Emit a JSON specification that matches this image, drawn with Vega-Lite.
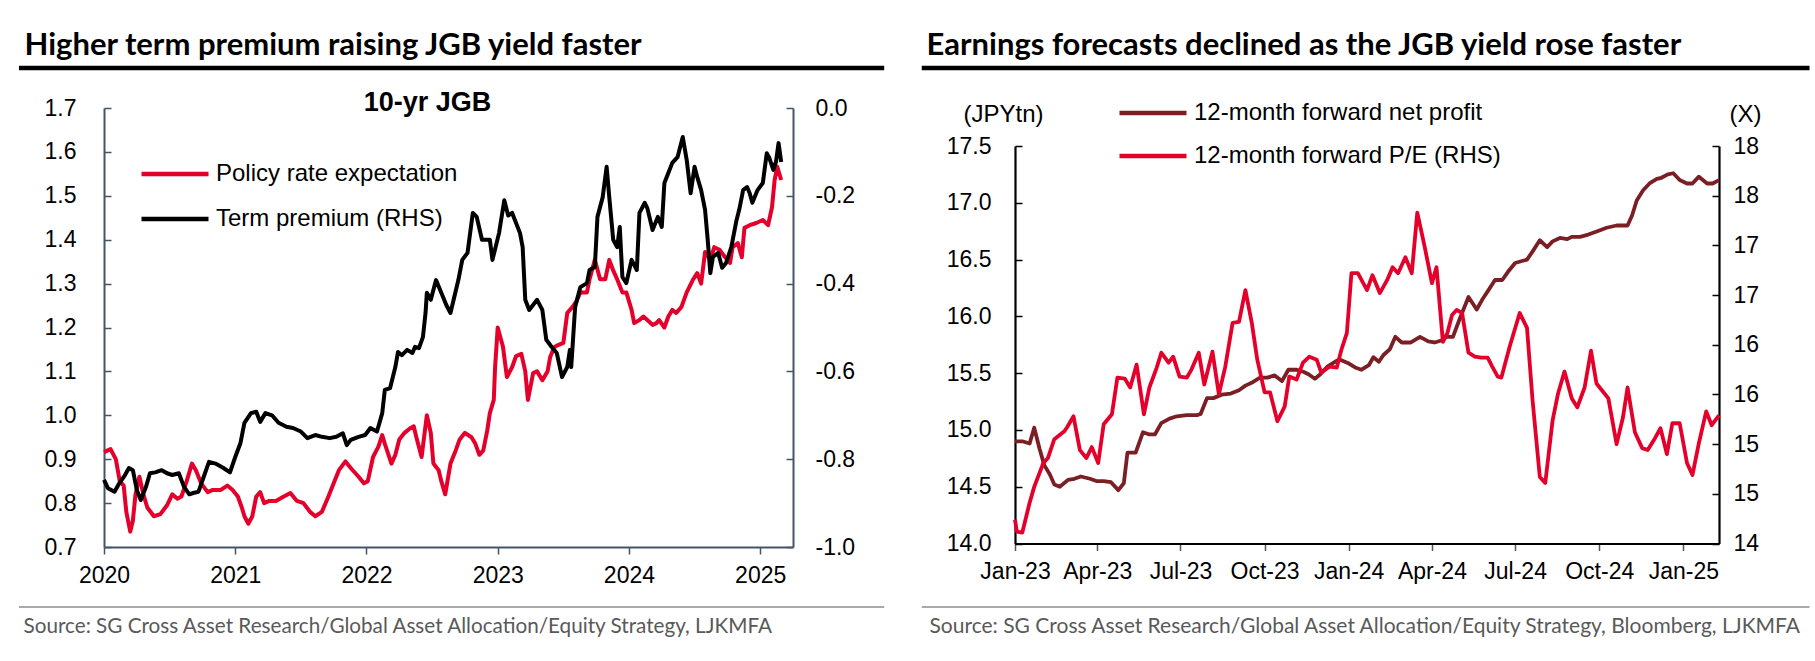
{
  "$schema": "https://vega.github.io/schema/vega-lite/v6.json",
  "width": 1815,
  "height": 661,
  "autosize": {"type": "none"},
  "padding": 0,
  "background": "white",
  "config": {
    "view": {"stroke": null},
    "axis": {"grid": false, "labelFont": "Liberation Sans", "labelFontSize": 23, "labelColor": "black", "labelFlush": false, "labelOverlap": false, "titleFont": "Liberation Sans", "titleColor": "black", "titleLimit": 2000},
    "legend": {"labelFont": "Liberation Sans", "labelFontSize": 24, "labelColor": "black", "labelLimit": 800, "padding": 0, "symbolType": "stroke", "symbolSize": 4489, "labelOffset": 5}
  },
  "datasets": {
    "policy": [
      {"t":2020.00,"v":0.916},{"t":2020.05,"v":0.923},{"t":2020.09,"v":0.90},{"t":2020.12,"v":0.85},{"t":2020.15,"v":0.84},{"t":2020.17,"v":0.78},{"t":2020.20,"v":0.735},{"t":2020.22,"v":0.76},{"t":2020.24,"v":0.82},{"t":2020.27,"v":0.86},{"t":2020.30,"v":0.82},{"t":2020.33,"v":0.79},{"t":2020.38,"v":0.77},{"t":2020.43,"v":0.775},{"t":2020.48,"v":0.795},{"t":2020.52,"v":0.82},{"t":2020.56,"v":0.81},{"t":2020.59,"v":0.815},{"t":2020.63,"v":0.85},{"t":2020.67,"v":0.89},{"t":2020.70,"v":0.875},{"t":2020.74,"v":0.845},{"t":2020.79,"v":0.825},{"t":2020.83,"v":0.83},{"t":2020.89,"v":0.83},{"t":2020.94,"v":0.84},{"t":2020.98,"v":0.83},
      {"t":2021.02,"v":0.815},{"t":2021.05,"v":0.79},{"t":2021.07,"v":0.77},{"t":2021.10,"v":0.753},{"t":2021.13,"v":0.77},{"t":2021.16,"v":0.815},{"t":2021.19,"v":0.825},{"t":2021.22,"v":0.80},{"t":2021.26,"v":0.805},{"t":2021.31,"v":0.805},{"t":2021.37,"v":0.815},{"t":2021.42,"v":0.823},{"t":2021.47,"v":0.805},{"t":2021.52,"v":0.80},{"t":2021.57,"v":0.78},{"t":2021.61,"v":0.77},{"t":2021.66,"v":0.78},{"t":2021.71,"v":0.815},{"t":2021.75,"v":0.845},{"t":2021.79,"v":0.875},{"t":2021.84,"v":0.895},{"t":2021.88,"v":0.88},{"t":2021.94,"v":0.86},{"t":2021.98,"v":0.845},
      {"t":2022.01,"v":0.85},{"t":2022.05,"v":0.905},{"t":2022.09,"v":0.928},{"t":2022.12,"v":0.955},{"t":2022.14,"v":0.935},{"t":2022.19,"v":0.89},{"t":2022.22,"v":0.91},{"t":2022.25,"v":0.945},{"t":2022.29,"v":0.96},{"t":2022.33,"v":0.97},{"t":2022.36,"v":0.975},{"t":2022.38,"v":0.95},{"t":2022.42,"v":0.905},{"t":2022.46,"v":1.00},{"t":2022.49,"v":0.96},{"t":2022.51,"v":0.89},{"t":2022.55,"v":0.875},{"t":2022.57,"v":0.85},{"t":2022.60,"v":0.82},{"t":2022.64,"v":0.89},{"t":2022.68,"v":0.92},{"t":2022.71,"v":0.945},{"t":2022.75,"v":0.96},{"t":2022.80,"v":0.95},{"t":2022.83,"v":0.935},{"t":2022.86,"v":0.91},{"t":2022.89,"v":0.92},{"t":2022.92,"v":0.965},{"t":2022.94,"v":1.005},{"t":2022.97,"v":1.035},{"t":2022.98,"v":1.11},
      {"t":2023.00,"v":1.20},{"t":2023.04,"v":1.156},{"t":2023.07,"v":1.087},{"t":2023.11,"v":1.11},{"t":2023.14,"v":1.135},{"t":2023.18,"v":1.14},{"t":2023.21,"v":1.10},{"t":2023.23,"v":1.035},{"t":2023.27,"v":1.096},{"t":2023.30,"v":1.10},{"t":2023.34,"v":1.08},{"t":2023.38,"v":1.10},{"t":2023.40,"v":1.133},{"t":2023.43,"v":1.155},{"t":2023.46,"v":1.16},{"t":2023.50,"v":1.165},{"t":2023.53,"v":1.233},{"t":2023.57,"v":1.247},{"t":2023.60,"v":1.26},{"t":2023.63,"v":1.28},{"t":2023.68,"v":1.28},{"t":2023.70,"v":1.31},{"t":2023.74,"v":1.354},{"t":2023.78,"v":1.31},{"t":2023.82,"v":1.31},{"t":2023.85,"v":1.354},{"t":2023.88,"v":1.33},{"t":2023.91,"v":1.31},{"t":2023.95,"v":1.28},{"t":2023.98,"v":1.28},
      {"t":2024.02,"v":1.24},{"t":2024.04,"v":1.21},{"t":2024.08,"v":1.217},{"t":2024.11,"v":1.225},{"t":2024.14,"v":1.217},{"t":2024.18,"v":1.206},{"t":2024.21,"v":1.21},{"t":2024.23,"v":1.217},{"t":2024.27,"v":1.20},{"t":2024.30,"v":1.225},{"t":2024.33,"v":1.24},{"t":2024.36,"v":1.233},{"t":2024.40,"v":1.247},{"t":2024.44,"v":1.28},{"t":2024.49,"v":1.31},{"t":2024.52,"v":1.324},{"t":2024.55,"v":1.30},{"t":2024.58,"v":1.372},{"t":2024.62,"v":1.354},{"t":2024.65,"v":1.383},{"t":2024.69,"v":1.377},{"t":2024.73,"v":1.361},{"t":2024.77,"v":1.347},{"t":2024.79,"v":1.383},{"t":2024.83,"v":1.392},{"t":2024.86,"v":1.36},{"t":2024.88,"v":1.427},{"t":2024.92,"v":1.433},{"t":2024.97,"v":1.438},{"t":2025.02,"v":1.445},{"t":2025.06,"v":1.433},{"t":2025.09,"v":1.474},{"t":2025.11,"v":1.536},{"t":2025.13,"v":1.566},{"t":2025.16,"v":1.536}
    ],
    "term": [
      {"t":2020.00,"v":-0.847},{"t":2020.03,"v":-0.866},{"t":2020.08,"v":-0.874},{"t":2020.11,"v":-0.858},{"t":2020.16,"v":-0.836},{"t":2020.19,"v":-0.82},{"t":2020.22,"v":-0.825},{"t":2020.25,"v":-0.87},{"t":2020.28,"v":-0.893},{"t":2020.32,"v":-0.863},{"t":2020.35,"v":-0.832},{"t":2020.39,"v":-0.83},{"t":2020.44,"v":-0.825},{"t":2020.48,"v":-0.832},{"t":2020.52,"v":-0.836},{"t":2020.57,"v":-0.832},{"t":2020.61,"v":-0.863},{"t":2020.65,"v":-0.88},{"t":2020.68,"v":-0.877},{"t":2020.72,"v":-0.874},{"t":2020.76,"v":-0.84},{"t":2020.80,"v":-0.806},{"t":2020.85,"v":-0.81},{"t":2020.91,"v":-0.82},{"t":2020.96,"v":-0.83},
      {"t":2021.00,"v":-0.795},{"t":2021.04,"v":-0.763},{"t":2021.07,"v":-0.717},{"t":2021.12,"v":-0.695},{"t":2021.16,"v":-0.692},{"t":2021.19,"v":-0.715},{"t":2021.23,"v":-0.695},{"t":2021.28,"v":-0.70},{"t":2021.33,"v":-0.717},{"t":2021.39,"v":-0.726},{"t":2021.44,"v":-0.729},{"t":2021.50,"v":-0.737},{"t":2021.55,"v":-0.752},{"t":2021.61,"v":-0.745},{"t":2021.66,"v":-0.749},{"t":2021.72,"v":-0.752},{"t":2021.77,"v":-0.749},{"t":2021.82,"v":-0.741},{"t":2021.85,"v":-0.768},{"t":2021.88,"v":-0.756},{"t":2021.94,"v":-0.749},{"t":2021.99,"v":-0.745},
      {"t":2022.03,"v":-0.729},{"t":2022.08,"v":-0.737},{"t":2022.12,"v":-0.695},{"t":2022.14,"v":-0.642},{"t":2022.18,"v":-0.638},{"t":2022.22,"v":-0.59},{"t":2022.24,"v":-0.556},{"t":2022.27,"v":-0.563},{"t":2022.31,"v":-0.551},{"t":2022.35,"v":-0.558},{"t":2022.37,"v":-0.544},{"t":2022.40,"v":-0.547},{"t":2022.43,"v":-0.522},{"t":2022.45,"v":-0.467},{"t":2022.46,"v":-0.421},{"t":2022.49,"v":-0.437},{"t":2022.53,"v":-0.392},{"t":2022.57,"v":-0.421},{"t":2022.61,"v":-0.45},{"t":2022.64,"v":-0.467},{"t":2022.70,"v":-0.392},{"t":2022.73,"v":-0.346},{"t":2022.77,"v":-0.33},{"t":2022.81,"v":-0.239},{"t":2022.84,"v":-0.248},{"t":2022.88,"v":-0.30},{"t":2022.94,"v":-0.30},{"t":2022.96,"v":-0.346},
      {"t":2023.01,"v":-0.285},{"t":2023.05,"v":-0.21},{"t":2023.08,"v":-0.245},{"t":2023.11,"v":-0.239},{"t":2023.17,"v":-0.285},{"t":2023.19,"v":-0.317},{"t":2023.21,"v":-0.437},{"t":2023.24,"v":-0.46},{"t":2023.30,"v":-0.437},{"t":2023.34,"v":-0.46},{"t":2023.37,"v":-0.528},{"t":2023.41,"v":-0.544},{"t":2023.45,"v":-0.558},{"t":2023.49,"v":-0.613},{"t":2023.53,"v":-0.59},{"t":2023.55,"v":-0.551},{"t":2023.56,"v":-0.59},{"t":2023.59,"v":-0.453},{"t":2023.63,"v":-0.408},{"t":2023.68,"v":-0.399},{"t":2023.70,"v":-0.369},{"t":2023.74,"v":-0.362},{"t":2023.76,"v":-0.248},{"t":2023.80,"v":-0.203},{"t":2023.83,"v":-0.134},{"t":2023.85,"v":-0.203},{"t":2023.88,"v":-0.30},{"t":2023.91,"v":-0.317},{"t":2023.93,"v":-0.271},{"t":2023.95,"v":-0.385},{"t":2023.98,"v":-0.399},
      {"t":2024.02,"v":-0.346},{"t":2024.06,"v":-0.369},{"t":2024.08,"v":-0.239},{"t":2024.12,"v":-0.216},{"t":2024.14,"v":-0.228},{"t":2024.18,"v":-0.278},{"t":2024.22,"v":-0.248},{"t":2024.25,"v":-0.271},{"t":2024.27,"v":-0.171},{"t":2024.30,"v":-0.148},{"t":2024.33,"v":-0.125},{"t":2024.37,"v":-0.112},{"t":2024.41,"v":-0.066},{"t":2024.44,"v":-0.118},{"t":2024.47,"v":-0.194},{"t":2024.50,"v":-0.134},{"t":2024.52,"v":-0.157},{"t":2024.55,"v":-0.187},{"t":2024.58,"v":-0.232},{"t":2024.60,"v":-0.30},{"t":2024.62,"v":-0.376},{"t":2024.64,"v":-0.339},{"t":2024.68,"v":-0.33},{"t":2024.71,"v":-0.364},{"t":2024.74,"v":-0.353},{"t":2024.78,"v":-0.317},{"t":2024.82,"v":-0.255},{"t":2024.84,"v":-0.232},{"t":2024.87,"v":-0.187},{"t":2024.90,"v":-0.18},{"t":2024.92,"v":-0.194},{"t":2024.94,"v":-0.216},{"t":2024.98,"v":-0.187},{"t":2025.02,"v":-0.171},{"t":2025.05,"v":-0.103},{"t":2025.07,"v":-0.114},{"t":2025.10,"v":-0.141},{"t":2025.12,"v":-0.123},{"t":2025.14,"v":-0.08},{"t":2025.16,"v":-0.123}
    ],
    "profit": [
      {"d":"2023-01-01","v":14.90},{"d":"2023-01-09","v":14.90},{"d":"2023-01-17","v":14.88},{"d":"2023-01-22","v":15.02},{"d":"2023-01-28","v":14.83},{"d":"2023-02-02","v":14.69},{"d":"2023-02-08","v":14.61},{"d":"2023-02-13","v":14.52},{"d":"2023-02-19","v":14.50},{"d":"2023-02-28","v":14.56},{"d":"2023-03-07","v":14.57},{"d":"2023-03-14","v":14.59},{"d":"2023-03-24","v":14.57},{"d":"2023-03-31","v":14.55},{"d":"2023-04-08","v":14.55},{"d":"2023-04-16","v":14.54},{"d":"2023-04-24","v":14.47},{"d":"2023-04-30","v":14.53},{"d":"2023-05-04","v":14.80},{"d":"2023-05-13","v":14.80},{"d":"2023-05-21","v":14.98},{"d":"2023-05-28","v":14.96},{"d":"2023-06-03","v":14.96},{"d":"2023-06-10","v":15.06},{"d":"2023-06-19","v":15.10},{"d":"2023-06-27","v":15.12},{"d":"2023-07-08","v":15.13},{"d":"2023-07-19","v":15.13},{"d":"2023-07-23","v":15.14},{"d":"2023-07-30","v":15.28},{"d":"2023-08-06","v":15.28},{"d":"2023-08-15","v":15.31},{"d":"2023-08-25","v":15.32},{"d":"2023-09-03","v":15.35},{"d":"2023-09-10","v":15.39},{"d":"2023-09-18","v":15.42},{"d":"2023-09-26","v":15.46},{"d":"2023-10-04","v":15.46},{"d":"2023-10-12","v":15.48},{"d":"2023-10-20","v":15.43},{"d":"2023-10-27","v":15.53},{"d":"2023-11-05","v":15.53},{"d":"2023-11-13","v":15.51},{"d":"2023-11-18","v":15.49},{"d":"2023-11-25","v":15.45},{"d":"2023-12-01","v":15.49},{"d":"2023-12-09","v":15.56},{"d":"2023-12-17","v":15.60},{"d":"2023-12-22","v":15.62},{"d":"2023-12-31","v":15.59},
      {"d":"2024-01-08","v":15.55},{"d":"2024-01-15","v":15.53},{"d":"2024-01-23","v":15.57},{"d":"2024-01-28","v":15.64},{"d":"2024-02-03","v":15.60},{"d":"2024-02-08","v":15.66},{"d":"2024-02-15","v":15.71},{"d":"2024-02-21","v":15.82},{"d":"2024-02-28","v":15.77},{"d":"2024-03-09","v":15.77},{"d":"2024-03-19","v":15.82},{"d":"2024-03-28","v":15.78},{"d":"2024-04-04","v":15.77},{"d":"2024-04-12","v":15.79},{"d":"2024-04-17","v":15.82},{"d":"2024-04-24","v":15.82},{"d":"2024-05-01","v":15.97},{"d":"2024-05-11","v":16.17},{"d":"2024-05-20","v":16.06},{"d":"2024-05-27","v":16.16},{"d":"2024-06-01","v":16.22},{"d":"2024-06-09","v":16.32},{"d":"2024-06-17","v":16.32},{"d":"2024-06-23","v":16.39},{"d":"2024-07-01","v":16.47},{"d":"2024-07-14","v":16.50},{"d":"2024-07-20","v":16.57},{"d":"2024-07-28","v":16.67},{"d":"2024-08-05","v":16.61},{"d":"2024-08-11","v":16.66},{"d":"2024-08-19","v":16.69},{"d":"2024-08-27","v":16.68},{"d":"2024-09-01","v":16.70},{"d":"2024-09-10","v":16.70},{"d":"2024-09-19","v":16.72},{"d":"2024-09-29","v":16.75},{"d":"2024-10-09","v":16.78},{"d":"2024-10-20","v":16.80},{"d":"2024-11-01","v":16.80},{"d":"2024-11-06","v":16.89},{"d":"2024-11-11","v":17.02},{"d":"2024-11-18","v":17.11},{"d":"2024-11-25","v":17.17},{"d":"2024-12-03","v":17.21},{"d":"2024-12-08","v":17.22},{"d":"2024-12-15","v":17.25},{"d":"2024-12-21","v":17.26},{"d":"2024-12-28","v":17.20},
      {"d":"2025-01-05","v":17.17},{"d":"2025-01-11","v":17.17},{"d":"2025-01-18","v":17.23},{"d":"2025-01-27","v":17.17},{"d":"2025-02-02","v":17.17},{"d":"2025-02-09","v":17.20}
    ],
    "pe": [
      {"d":"2023-01-01","v":14.24},{"d":"2023-01-03","v":14.12},{"d":"2023-01-09","v":14.11},{"d":"2023-01-17","v":14.41},{"d":"2023-01-22","v":14.57},{"d":"2023-02-01","v":14.81},{"d":"2023-02-06","v":14.86},{"d":"2023-02-13","v":15.05},{"d":"2023-02-24","v":15.13},{"d":"2023-02-27","v":15.17},{"d":"2023-03-06","v":15.28},{"d":"2023-03-13","v":14.94},{"d":"2023-03-20","v":14.86},{"d":"2023-03-26","v":14.97},{"d":"2023-04-02","v":14.81},{"d":"2023-04-08","v":15.20},{"d":"2023-04-17","v":15.30},{"d":"2023-04-23","v":15.67},{"d":"2023-05-01","v":15.66},{"d":"2023-05-07","v":15.57},{"d":"2023-05-14","v":15.80},{"d":"2023-05-22","v":15.30},{"d":"2023-05-28","v":15.57},{"d":"2023-06-05","v":15.77},{"d":"2023-06-10","v":15.92},{"d":"2023-06-18","v":15.82},{"d":"2023-06-23","v":15.88},{"d":"2023-06-30","v":15.68},{"d":"2023-07-08","v":15.67},{"d":"2023-07-13","v":15.75},{"d":"2023-07-21","v":15.92},{"d":"2023-07-27","v":15.60},{"d":"2023-08-05","v":15.93},{"d":"2023-08-12","v":15.50},{"d":"2023-08-19","v":15.78},{"d":"2023-08-27","v":16.22},{"d":"2023-09-03","v":16.23},{"d":"2023-09-10","v":16.55},{"d":"2023-09-17","v":16.22},{"d":"2023-09-23","v":15.85},{"d":"2023-10-01","v":15.52},{"d":"2023-10-07","v":15.52},{"d":"2023-10-15","v":15.23},{"d":"2023-10-23","v":15.38},{"d":"2023-10-28","v":15.68},{"d":"2023-11-05","v":15.65},{"d":"2023-11-12","v":15.82},{"d":"2023-11-19","v":15.88},{"d":"2023-11-27","v":15.85},{"d":"2023-12-02","v":15.72},{"d":"2023-12-11","v":15.78},{"d":"2023-12-19","v":15.77},{"d":"2023-12-24","v":15.95},{"d":"2023-12-30","v":16.12},
      {"d":"2024-01-04","v":16.72},{"d":"2024-01-11","v":16.72},{"d":"2024-01-21","v":16.55},{"d":"2024-01-27","v":16.70},{"d":"2024-02-04","v":16.52},{"d":"2024-02-12","v":16.65},{"d":"2024-02-18","v":16.78},{"d":"2024-02-24","v":16.72},{"d":"2024-03-03","v":16.88},{"d":"2024-03-10","v":16.72},{"d":"2024-03-16","v":17.33},{"d":"2024-03-24","v":16.99},{"d":"2024-04-01","v":16.62},{"d":"2024-04-06","v":16.78},{"d":"2024-04-13","v":16.03},{"d":"2024-04-18","v":16.12},{"d":"2024-04-23","v":16.30},{"d":"2024-04-28","v":16.35},{"d":"2024-05-04","v":16.32},{"d":"2024-05-11","v":15.92},{"d":"2024-05-18","v":15.88},{"d":"2024-05-25","v":15.87},{"d":"2024-06-01","v":15.87},{"d":"2024-06-06","v":15.78},{"d":"2024-06-12","v":15.68},{"d":"2024-06-16","v":15.67},{"d":"2024-06-25","v":15.98},{"d":"2024-07-06","v":16.32},{"d":"2024-07-14","v":16.17},{"d":"2024-07-20","v":15.45},{"d":"2024-07-28","v":14.67},{"d":"2024-08-03","v":14.61},{"d":"2024-08-11","v":15.24},{"d":"2024-08-17","v":15.51},{"d":"2024-08-24","v":15.73},{"d":"2024-09-01","v":15.46},{"d":"2024-09-07","v":15.37},{"d":"2024-09-15","v":15.57},{"d":"2024-09-22","v":15.94},{"d":"2024-09-28","v":15.61},{"d":"2024-10-05","v":15.53},{"d":"2024-10-11","v":15.46},{"d":"2024-10-20","v":15.00},{"d":"2024-10-27","v":15.27},{"d":"2024-11-01","v":15.57},{"d":"2024-11-09","v":15.12},{"d":"2024-11-17","v":14.96},{"d":"2024-11-23","v":14.94},{"d":"2024-12-01","v":15.06},{"d":"2024-12-07","v":15.16},{"d":"2024-12-14","v":14.90},{"d":"2024-12-20","v":15.21},{"d":"2024-12-28","v":15.21},
      {"d":"2025-01-05","v":14.81},{"d":"2025-01-11","v":14.69},{"d":"2025-01-18","v":15.01},{"d":"2025-01-26","v":15.33},{"d":"2025-02-01","v":15.19},{"d":"2025-02-09","v":15.29}
    ]
  },
  "resolve": {
    "scale": {"x": "independent", "y": "independent", "color": "independent"},
    "axis": {"x": "independent", "y": "independent"},
    "legend": {"color": "independent"}
  },
  "layer": [
    {
      "data": {"values": [{}]},
      "mark": {"type": "rule", "color": "black", "strokeWidth": 4.5},
      "encoding": {
        "x": {"datum": 2019.352, "type": "quantitative", "scale": {"domain": [2020, 2025.25], "range": [104, 793], "nice": false, "zero": false}, "axis": null},
        "x2": {"datum": 2025.945},
        "y": {"datum": 1.7911, "type": "quantitative", "scale": {"domain": [0.7, 1.7], "range": [547, 108], "nice": false, "zero": false}, "axis": null}
      }
    },
    {
      "data": {"values": [{}]},
      "mark": {"type": "rule", "color": "#8c8c8c", "strokeWidth": 1.5},
      "encoding": {
        "x": {"datum": 2019.352, "type": "quantitative", "scale": {"domain": [2020, 2025.25], "range": [104, 793], "nice": false, "zero": false}, "axis": null},
        "x2": {"datum": 2025.945},
        "y": {"datum": 0.5633, "type": "quantitative", "scale": {"domain": [0.7, 1.7], "range": [547, 108], "nice": false, "zero": false}, "axis": null}
      }
    },
    {
      "data": {"values": [{}]},
      "mark": {"type": "rule", "color": "black", "strokeWidth": 4.5},
      "encoding": {
        "x": {"datum": {"year": 2022, "month": 9, "date": 21, "utc": true}, "type": "temporal", "scale": {"type": "utc", "domain": [{"year": 2023, "month": 1, "date": 1, "utc": true}, {"year": 2025, "month": 2, "date": 9, "utc": true}], "range": [1015, 1719]}, "axis": null},
        "x2": {"datum": {"year": 2025, "month": 5, "date": 19, "utc": true}},
        "y": {"datum": 18.187, "type": "quantitative", "scale": {"domain": [14, 17.5], "range": [543.5, 146], "nice": false, "zero": false}, "axis": null}
      }
    },
    {
      "data": {"values": [{}]},
      "mark": {"type": "rule", "color": "#8c8c8c", "strokeWidth": 1.5},
      "encoding": {
        "x": {"datum": {"year": 2022, "month": 9, "date": 21, "utc": true}, "type": "temporal", "scale": {"type": "utc", "domain": [{"year": 2023, "month": 1, "date": 1, "utc": true}, {"year": 2025, "month": 2, "date": 9, "utc": true}], "range": [1015, 1719]}, "axis": null},
        "x2": {"datum": {"year": 2025, "month": 5, "date": 19, "utc": true}},
        "y": {"datum": 13.441, "type": "quantitative", "scale": {"domain": [14, 17.5], "range": [543.5, 146], "nice": false, "zero": false}, "axis": null}
      }
    },
    {
      "data": {"name": "policy"},
      "mark": {"type": "line", "strokeWidth": 4, "strokeJoin": "round"},
      "encoding": {
        "x": {
          "field": "t", "type": "quantitative",
          "scale": {"domain": [2020, 2025.25], "range": [104, 793], "nice": false, "zero": false},
          "axis": {
            "orient": "bottom", "offset": -114, "values": [2020, 2021, 2022, 2023, 2024, 2025], "format": "d",
            "domainColor": "#44546a", "domainWidth": 2, "tickColor": "#44546a", "tickWidth": 1.5, "tickSize": 7, "labelPadding": 10,
            "title": "Source:  SG Cross Asset Research/Global Asset Allocation/Equity Strategy, LJKMFA",
            "titleX": 23, "titleY": 85, "titleAlign": "left", "titleAnchor": "start", "titleBaseline": "alphabetic",
            "titleFont": "Lato", "titleFontSize": 20.7, "titleFontWeight": "normal", "titleColor": "#595959"
          }
        },
        "y": {
          "field": "v", "type": "quantitative",
          "scale": {"domain": [0.7, 1.7], "range": [547, 108], "nice": false, "zero": false},
          "axis": {
            "orient": "left", "offset": -104, "values": [0.7, 0.8, 0.9, 1.0, 1.1, 1.2, 1.3, 1.4, 1.5, 1.6, 1.7], "format": ".1f",
            "domainColor": "#44546a", "domainWidth": 2, "tickColor": "#44546a", "tickWidth": 1.5, "tickSize": -7, "labelPadding": 35,
            "title": "10-yr JGB", "titleAngle": 0, "titleX": 323, "titleY": 110, "titleAlign": "center", "titleBaseline": "alphabetic",
            "titleFontSize": 27, "titleFontWeight": "bold"
          }
        },
        "color": {
          "datum": "Policy rate expectation",
          "scale": {"range": ["#e4002b"]},
          "legend": {"orient": "none", "legendX": 139, "legendY": 138, "title": null, "symbolStrokeWidth": 4.5}
        }
      }
    },
    {
      "data": {"name": "term"},
      "mark": {"type": "line", "strokeWidth": 4, "strokeJoin": "round"},
      "encoding": {
        "x": {
          "field": "t", "type": "quantitative",
          "scale": {"domain": [2020, 2025.25], "range": [104, 793], "nice": false, "zero": false},
          "axis": {
            "orient": "top", "domain": false, "ticks": false, "labels": false,
            "title": "Higher term premium raising JGB yield faster",
            "titleX": 24, "titleY": 54, "titleAlign": "left", "titleAnchor": "start", "titleBaseline": "alphabetic",
            "titleFont": "Lato", "titleFontSize": 31, "titleFontWeight": "bold"
          }
        },
        "y": {
          "field": "v", "type": "quantitative",
          "scale": {"domain": [-1, 0], "range": [547, 108], "nice": false, "zero": false},
          "axis": {
            "orient": "right", "offset": -1022, "values": [0, -0.2, -0.4, -0.6, -0.8, -1.0],
            "labelExpr": "replace(format(datum.value, '.1f'), '\u2212', '-')",
            "domainColor": "#44546a", "domainWidth": 2, "tickColor": "#44546a", "tickWidth": 1.5, "tickSize": -7, "labelPadding": 29,
            "title": null
          }
        },
        "color": {
          "datum": "Term premium (RHS)",
          "scale": {"range": ["black"]},
          "legend": {"orient": "none", "legendX": 139, "legendY": 183, "title": null, "symbolStrokeWidth": 4.5}
        }
      }
    },
    {
      "data": {"name": "profit"},
      "mark": {"type": "line", "strokeWidth": 3.8, "strokeJoin": "round"},
      "encoding": {
        "x": {
          "field": "d", "type": "temporal",
          "scale": {"type": "utc", "domain": [{"year": 2023, "month": 1, "date": 1, "utc": true}, {"year": 2025, "month": 2, "date": 9, "utc": true}], "range": [1015, 1719]},
          "axis": {
            "orient": "bottom", "offset": -117.5,
            "values": [
              {"year": 2023, "month": 1, "date": 1, "utc": true}, {"year": 2023, "month": 4, "date": 1, "utc": true}, {"year": 2023, "month": 7, "date": 1, "utc": true}, {"year": 2023, "month": 10, "date": 1, "utc": true},
              {"year": 2024, "month": 1, "date": 1, "utc": true}, {"year": 2024, "month": 4, "date": 1, "utc": true}, {"year": 2024, "month": 7, "date": 1, "utc": true}, {"year": 2024, "month": 10, "date": 1, "utc": true},
              {"year": 2025, "month": 1, "date": 1, "utc": true}
            ],
            "labelExpr": "utcFormat(datum.value, '%b-%y')",
            "domainColor": "black", "domainWidth": 2.2, "tickColor": "#555555", "tickWidth": 1.5, "tickSize": 7, "labelPadding": 10,
            "title": "Source:  SG Cross Asset Research/Global Asset Allocation/Equity Strategy, Bloomberg, LJKMFA",
            "titleX": 929, "titleY": 88.5, "titleAlign": "left", "titleAnchor": "start", "titleBaseline": "alphabetic",
            "titleFont": "Lato", "titleFontSize": 21, "titleFontWeight": "normal", "titleColor": "#595959"
          }
        },
        "y": {
          "field": "v", "type": "quantitative",
          "scale": {"domain": [14, 17.5], "range": [543.5, 146], "nice": false, "zero": false},
          "axis": {
            "orient": "left", "offset": -1015, "values": [14, 14.5, 15, 15.5, 16, 16.5, 17, 17.5], "format": ".1f",
            "domainColor": "black", "domainWidth": 2.2, "tickColor": "black", "tickWidth": 1.5, "tickSize": -7, "labelPadding": 31,
            "title": "(JPYtn)", "titleAngle": 0, "titleX": -12, "titleY": 121, "titleAlign": "center", "titleBaseline": "alphabetic",
            "titleFontSize": 24, "titleFontWeight": "normal"
          }
        },
        "color": {
          "datum": "12-month forward net profit",
          "scale": {"range": ["#7b1f24"]},
          "legend": {"orient": "none", "legendX": 1117, "legendY": 77, "title": null, "symbolStrokeWidth": 4.5}
        }
      }
    },
    {
      "data": {"name": "pe"},
      "mark": {"type": "line", "strokeWidth": 3.8, "strokeJoin": "round"},
      "encoding": {
        "x": {
          "field": "d", "type": "temporal",
          "scale": {"type": "utc", "domain": [{"year": 2023, "month": 1, "date": 1, "utc": true}, {"year": 2025, "month": 2, "date": 9, "utc": true}], "range": [1015, 1719]},
          "axis": {
            "orient": "top", "domain": false, "ticks": false, "labels": false,
            "title": "Earnings forecasts declined as the JGB yield rose faster",
            "titleX": 926, "titleY": 54, "titleAlign": "left", "titleAnchor": "start", "titleBaseline": "alphabetic",
            "titleFont": "Lato", "titleFontSize": 31, "titleFontWeight": "bold"
          }
        },
        "y": {
          "field": "v", "type": "quantitative",
          "scale": {"domain": [14, 18], "range": [543.5, 146], "nice": false, "zero": false},
          "axis": {
            "orient": "right", "offset": -96, "values": [14, 14.5, 15, 15.5, 16, 16.5, 17, 17.5, 18], "format": ".0f",
            "domainColor": "black", "domainWidth": 2.2, "tickColor": "black", "tickWidth": 1.5, "tickSize": -7, "labelPadding": 21,
            "title": "(X)", "titleAngle": 0, "titleX": 26, "titleY": 121, "titleAlign": "center", "titleBaseline": "alphabetic",
            "titleFontSize": 24, "titleFontWeight": "normal"
          }
        },
        "color": {
          "datum": "12-month forward P/E (RHS)",
          "scale": {"range": ["#e4002b"]},
          "legend": {"orient": "none", "legendX": 1117, "legendY": 120, "title": null, "symbolStrokeWidth": 4.5}
        }
      }
    }
  ]
}
